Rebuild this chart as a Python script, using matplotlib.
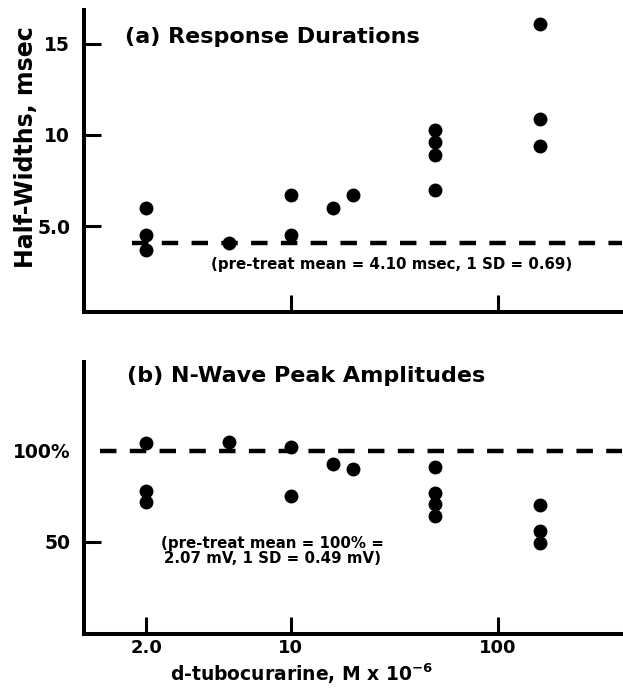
import numpy as np
import matplotlib
matplotlib.use('Agg')
import matplotlib.pyplot as plt

plt.rcParams['font.family'] = 'DejaVu Sans'
plt.rcParams['font.weight'] = 'bold'

# (a) response durations (half-widths, msec)
conc_a = [2, 2, 2, 5, 10, 10, 16, 20, 50, 50, 50, 50, 160, 160, 160]
half_widths = [6.0, 4.5, 3.7, 4.1, 6.7, 4.5, 6.0, 6.7, 10.3, 9.6, 8.9, 7.0, 16.1, 10.9, 9.4]
mean_a = 4.1
mean_a_span = [1.7, 400]

# (b) N-wave peak amplitudes (% of pre-treat mean)
conc_b = [2, 2, 2, 5, 10, 10, 16, 20, 50, 50, 50, 50, 160, 160, 160]
amplitudes = [104.5, 78, 72, 105, 102, 75, 93, 90, 91, 77, 71, 64, 70.5, 56, 49.5]
mean_b = 100
mean_b_span = [1.2, 400]

x_ticks = [2, 10, 100]
x_ticklabels = ['2.0', '10', '100']

W, H = 623, 688
fig = plt.figure(figsize=(W / 100, H / 100), dpi=100)

def px_axes(l, t, r, b):
    return fig.add_axes([l / W, 1 - b / H, (r - l) / W, (b - t) / H])

ax1 = px_axes(84, 10, 622, 312)
ax2 = px_axes(84, 362, 622, 634)

for ax in (ax1, ax2):
    ax.set_xscale('log')
    ax.set_xlim(1.0, 400)
    ax.spines['top'].set_visible(False)
    ax.spines['right'].set_visible(False)
    for s in ('left', 'bottom'):
        ax.spines[s].set_linewidth(2.9)
    ax.xaxis.set_minor_locator(matplotlib.ticker.NullLocator())
    ax.tick_params(axis='both', direction='in', length=12, width=2.2,
                   labelsize=13.5, pad=10)
    ax.tick_params(axis='x', labelsize=13, pad=3.5)

dash = (0, (3.7, 3.0))

# panel (a)
ax1.plot(conc_a, half_widths, 'o', color='black', markersize=9, zorder=3)
ax1.plot(mean_a_span, [mean_a, mean_a], color='black', lw=3.2, ls=dash, zorder=2)
ax1.set_ylim(0.3, 16.85)
ax1.set_yticks([5, 10, 15])
ax1.set_yticklabels(['5.0', '10', '15'])
ax1.set_xticks([10, 100])
ax1.set_xticklabels([])
ax1.set_ylabel('Half-Widths, msec', fontsize=17, fontweight='bold')
ax1.yaxis.set_label_coords(-0.085, 0.546)
ax1.text((125 - 84) / 538, (312 - 37) / 302, '(a) Response Durations',
         transform=ax1.transAxes, fontsize=16, fontweight='bold',
         ha='left', va='center')
ax1.text((392 - 84) / 538, (312 - 265) / 302,
         '(pre-treat mean = 4.10 msec, 1 SD = 0.69)',
         transform=ax1.transAxes, fontsize=10.8, fontweight='bold',
         ha='center', va='center')

# panel (b)
ax2.plot(conc_b, amplitudes, 'o', color='black', markersize=9, zorder=3)
ax2.plot(mean_b_span, [mean_b, mean_b], color='black', lw=3.2, ls=dash, zorder=2)
ax2.set_ylim(-0.5, 148.7)
ax2.set_yticks([50, 100])
ax2.set_yticklabels(['50', '100%'])
ax2.yaxis.get_major_ticks()[1].tick1line.set_visible(False)
ax2.set_xticks(x_ticks)
ax2.set_xticklabels(x_ticklabels)
ax2.set_xlabel('d-tubocurarine, M x 10$^{\\mathbf{-6}}$', fontsize=13.5,
               fontweight='bold')
ax2.xaxis.set_label_coords((302 - 84) / 538, (634 - 661) / 272)
ax2.text((127 - 84) / 538, (634 - 376) / 272, '(b) N-Wave Peak Amplitudes',
         transform=ax2.transAxes, fontsize=16, fontweight='bold',
         ha='left', va='center')
ax2.text((272 - 84) / 538, (634 - 551) / 272,
         '(pre-treat mean = 100% =\n2.07 mV, 1 SD = 0.49 mV)',
         transform=ax2.transAxes, fontsize=10.8, fontweight='bold',
         ha='center', va='center', multialignment='center', linespacing=1.05)

fig.savefig('out.png', dpi=100)
